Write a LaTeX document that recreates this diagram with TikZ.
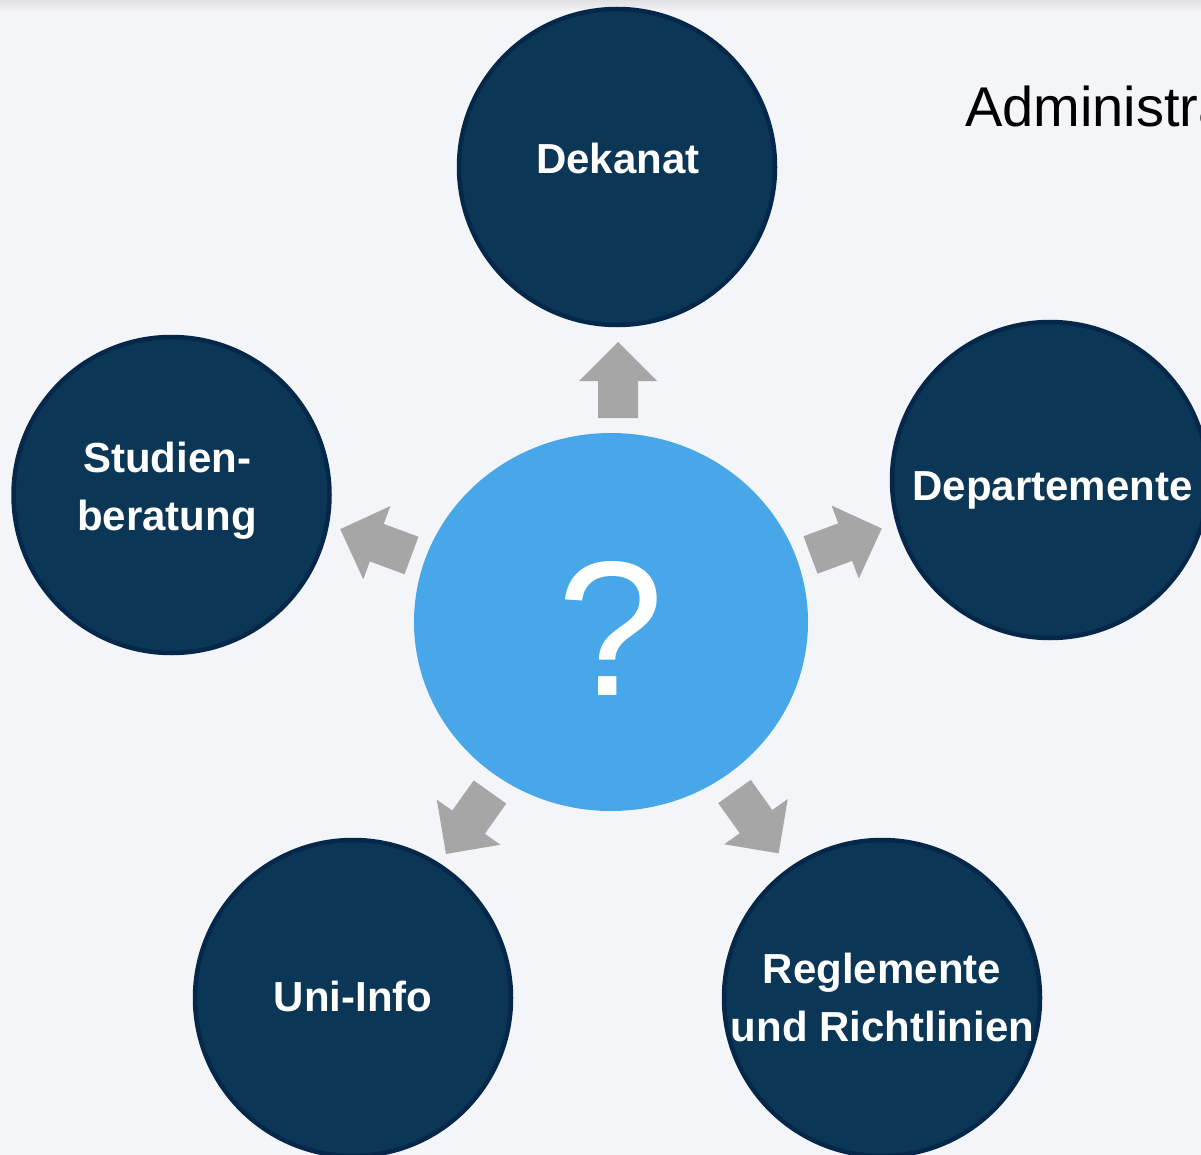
\documentclass[tikz,border=0pt]{standalone}
\usepackage{fontspec}
\setmainfont{Liberation Sans}
\usetikzlibrary{shapes.geometric}
\definecolor{bg}{HTML}{F3F5F9}
\definecolor{navy}{HTML}{0B3656}
\definecolor{navyline}{HTML}{05284A}
\definecolor{skyblue}{HTML}{47A7E8}
\definecolor{arrowgray}{HTML}{A6A6A6}
\tikzset{
  topic/.style={circle, draw=navyline, fill=navy, line width=4.5pt, minimum size=316pt, inner sep=0pt},
  topictext/.style={text=white, font=\bfseries\fontsize{42}{58}\selectfont, inner sep=0pt, anchor=base},
  blockarrow/.pic={\fill[arrowgray] (0,-20) -- (37,-20) -- (37,-39) -- (76,0) -- (37,39) -- (37,20) -- (0,20) -- cycle;}
}
\begin{document}
\begin{tikzpicture}[x=1pt,y=1pt]
\useasboundingbox (0,0) rectangle (1201,-1155);
\clip (0,0) rectangle (1201,-1155);
\fill[bg] (0,0) rectangle (1201,-1155);
\shade[top color=black!12, bottom color=bg] (0,0) rectangle (1201,-12);

% title (cut off at the right edge, as in the reference)
\node[anchor=base west, inner sep=0pt, font=\fontsize{56}{60}\selectfont] (title) at (965,-127) {Administration};

% topic circles
\node[topic] (dekanat) at (617,-167) {};
\node[topic] (studien) at (171.5,-495) {};
\node[topic] (depart) at (1050,-480) {};
\node[topic] (uni) at (353,-998) {};
\node[topic] (regl) at (882,-998) {};

\node[topictext] (tdek) at (618,-174) {Dekanat};
\node[topictext] (tstudA) at (167,-472) {Studien-};
\node[topictext] (tstudB) at (167,-530) {beratung};
\node[topictext] (tdep) at (1052.5,-500) {Departemente};
\node[topictext] (tuni) at (353,-1011) {Uni-Info};
\node[topictext] (treglA) at (882,-983) {Reglemente};
\node[topictext] (treglB) at (882.5,-1041) {und Richtlinien};

% centre
\node[ellipse, fill=skyblue, minimum width=394pt, minimum height=378pt, inner sep=0pt] (center) at (611,-622) {};
\node[text=white, font=\fontsize{192}{192}\selectfont, anchor=base, inner sep=0pt] (q) at (611,-695) {?};

% block arrows
\pic[rotate=90] at (618,-418) {blockarrow};
\pic[rotate=20.4] at (810.5,-555) {blockarrow};
\pic[rotate=159.7] at (411.5,-555.5) {blockarrow};
\pic[rotate=-125.4] at (490,-792) {blockarrow};
\pic[rotate=-54.5] at (734.5,-791.5) {blockarrow};
\end{tikzpicture}
\end{document}
